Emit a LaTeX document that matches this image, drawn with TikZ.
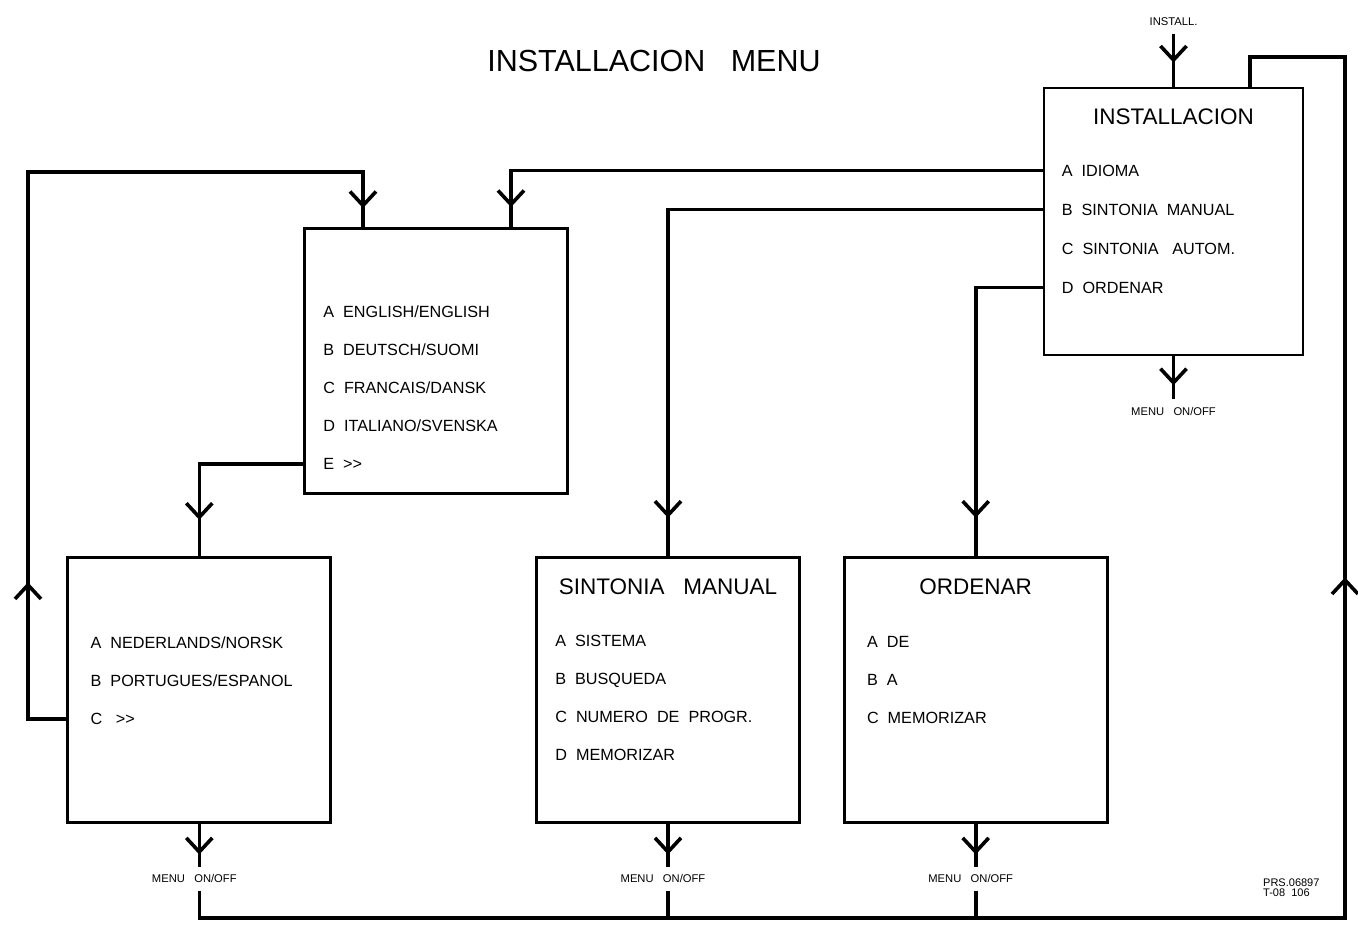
\documentclass[tikz,border=0pt]{standalone}
\usepackage{fontspec}
\setmainfont{Liberation Sans}
\usetikzlibrary{
    arrows.meta,
    positioning,
    decorations.markings,
}
\tikzset{
    >={Straight Barb[length=14pt, width=26pt]},
    menubox/.style={rectangle, draw, line width=2.7pt, minimum width=263pt, minimum height=265pt},
    boxtitle/.style={font=\fontsize{22.5pt}{24pt}\selectfont, inner sep=0pt, text height=16.1pt, text depth=0pt},
    menuitem/.style={font=\fontsize{16.2pt}{18pt}\selectfont, inner sep=0pt, text height=11.6pt, text depth=0pt},
    keylabel/.style={font=\fontsize{11.2pt}{12pt}\selectfont, inner sep=0pt, text height=8pt, text depth=0pt, outer ysep=8pt},
    docref/.style={font=\fontsize{11pt}{10pt}\selectfont, inner sep=0pt, align=left},
    maintitle/.style={font=\fontsize{30.5pt}{32pt}\selectfont, inner sep=0pt},
    link/.style={line width=3.6pt},
    tipat/.style={postaction={decorate, decoration={markings, mark=at position #1 with {\arrow{>}}}}},
}
\begin{document}
\begin{tikzpicture}[x=1pt, y=-1pt]
    \useasboundingbox (0,0) rectangle (1358,925);

    \node[maintitle] (menutitle) at (654,61) {INSTALLACION~~~MENU};

    % installacion
    \node[menubox, minimum width=259pt, minimum height=267pt] (install) at (1173.5,221.5) {};
    \node[boxtitle, below=22pt of install.north] (install_title) {INSTALLACION};
    \node[menuitem, below right=78pt and 19pt of install.north west] (idioma) {A~~IDIOMA};
    \node[menuitem, below right=27pt and 0pt of idioma.south west] (inst_manual) {B~~SINTONIA~~MANUAL};
    \node[menuitem, below right=27pt and 0pt of inst_manual.south west] (inst_autom) {C~~SINTONIA~~~AUTOM.};
    \node[menuitem, below right=27pt and 0pt of inst_autom.south west] (inst_order) {D~~ORDENAR};

    \node[keylabel, above=53pt of install.north] (installkey) {INSTALL.};
    \node[keylabel, below=43pt of install.south] (install_off) {MENU~~~ON/OFF};

    % idioma, first page
    \node[menubox] (lang1) at (436,361) {};
    \node[menuitem, below right=79pt and 20pt of lang1.north west] (english) {A~~ENGLISH/ENGLISH};
    \node[menuitem, below right=26pt and 0pt of english.south west] (deutsch) {B~~DEUTSCH/SUOMI};
    \node[menuitem, below right=26pt and 0pt of deutsch.south west] (francais) {C~~FRANCAIS/DANSK};
    \node[menuitem, below right=26pt and 0pt of francais.south west] (italiano) {D~~ITALIANO/SVENSKA};
    \node[menuitem, below right=26pt and 0pt of italiano.south west] (lang1_more) {E~~>{}>};

    % idioma, second page
    \node[menubox, below left=61pt and -29pt of lang1] (lang2) {};
    \node[menuitem, below right=81pt and 24pt of lang2.north west] (nederlands) {A~~NEDERLANDS/NORSK};
    \node[menuitem, below right=26pt and 0pt of nederlands.south west] (portugues) {B~~PORTUGUES/ESPANOL};
    \node[menuitem, below right=26pt and 0pt of portugues.south west] (lang2_more) {C~~~>{}>};

    % sintonia manual
    \node[menubox, right=203pt of lang2] (manual) {};
    \node[boxtitle, below=22pt of manual.north] (manual_title) {SINTONIA~~~MANUAL};
    \node[menuitem, below right=79pt and 20pt of manual.north west] (sistema) {A~~SISTEMA};
    \node[menuitem, below right=26pt and 0pt of sistema.south west] (busqueda) {B~~BUSQUEDA};
    \node[menuitem, below right=26pt and 0pt of busqueda.south west] (numero) {C~~NUMERO~~DE~~PROGR.};
    \node[menuitem, below right=26pt and 0pt of numero.south west] (man_memo) {D~~MEMORIZAR};

    % ordenar
    \node[menubox, right=42pt of manual] (order) {};
    \node[boxtitle, below=22pt of order.north] (order_title) {ORDENAR};
    \node[menuitem, below right=80pt and 24pt of order.north west] (order_de) {A~~DE};
    \node[menuitem, below right=26pt and 0pt of order_de.south west] (order_a) {B~~A};
    \node[menuitem, below right=26pt and 0pt of order_a.south west] (order_memo) {C~~MEMORIZAR};

    \node[keylabel, below=43pt of lang2.south, xshift=-5pt] (lang2_off) {MENU~~~ON/OFF};
    \node[keylabel, below=43pt of manual.south, xshift=-5pt] (manual_off) {MENU~~~ON/OFF};
    \node[keylabel, below=43pt of order.south, xshift=-5pt] (order_off) {MENU~~~ON/OFF};

    \node[docref, anchor=north west] (docnumber) at (1263,879) {PRS.06897\\T-08~~106};

    \coordinate (loopnw) at (28,172);
    \coordinate (loopse) at (1345,918);
    \coordinate (loopne) at (1345,57);

    % ===== CONNECTIONS =====
    \draw[link, tipat=-24pt] (installkey.south) -- (install.north);
    \draw[link, tipat=-14pt] (install.south) -- (install_off.north);

    \draw[link, tipat=-20pt] (install.west |- idioma) -| ([xshift=75pt]lang1.north);
    \draw[link, tipat=-38pt] (install.west |- inst_manual) -| (manual.north);
    \draw[link, tipat=-38pt] (install.west |- inst_order) -| (order.north);

    \draw[link, tipat=-36pt] (lang1.west |- lang1_more) -| (lang2.north);
    \draw[link, tipat=175pt, tipat=-19pt] (lang2.west |- lang2_more) -| (loopnw) -| ([xshift=-73pt]lang1.north);

    \draw[link, tipat=-12pt] (lang2.south) -- (lang2.south |- lang2_off.north);
    \draw[link, tipat=-12pt] (manual.south) -- (manual.south |- manual_off.north);
    \draw[link, tipat=-12pt] (order.south) -- (order.south |- order_off.north);

    \draw[link] (manual.south |- manual_off.south) -- (manual.south |- loopse);
    \draw[link] (order.south |- order_off.south) -- (order.south |- loopse);
    \draw[link, tipat=-645pt] (lang2.south |- lang2_off.south) |- (loopse) -- (loopne) -| ([xshift=76.5pt]install.north);
\end{tikzpicture}
\end{document}
